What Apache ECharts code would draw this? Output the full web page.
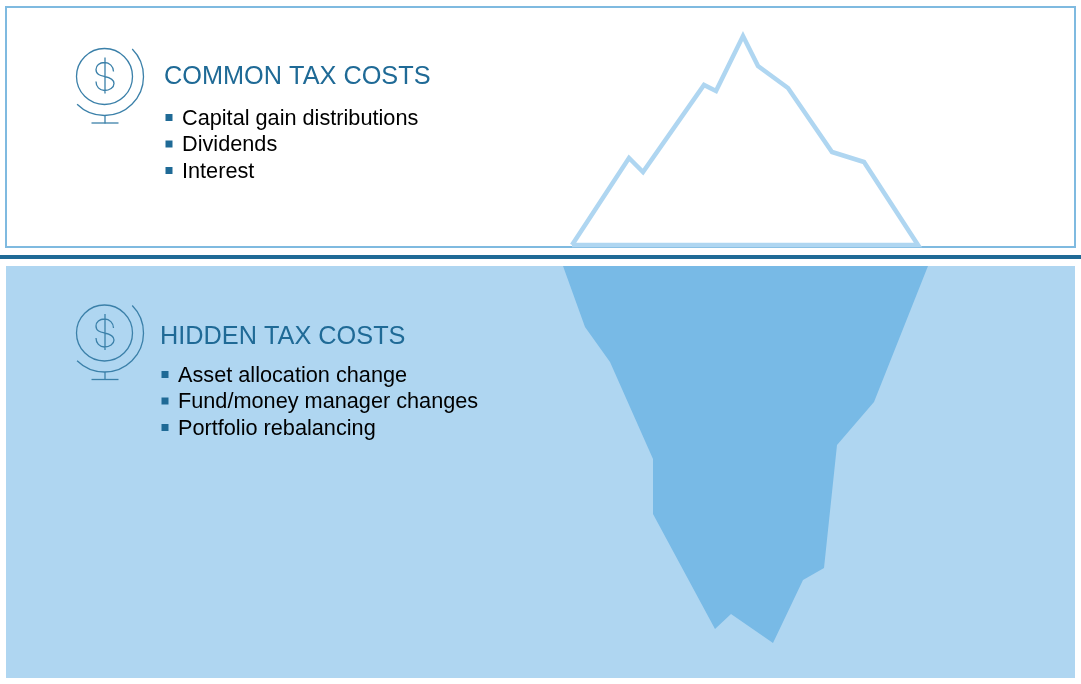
<!DOCTYPE html>
<html lang="en" style="height: 100%">
<head>
    <meta charset="utf-8">
</head>
<body style="height: 100%; margin: 0; background: #fff">
<div id="container" style="width: 1081px; height: 684px"></div>

<script type="text/javascript" src="https://fastly.jsdelivr.net/npm/echarts@6/dist/echarts.min.js"></script>
<script type="text/javascript">
    // iceberg outlines as [x, y]
    var tipOutline = [[572,245],[629,158],[643,172],[704,85],[716,91],[743,36],[758,66],[788,88],[832,152],[864,162],[918,245],[572,245]];
    var bergBody = [[563,266],[585,327],[610,362],[653,459],[653,514],[715,629],[731,614],[773,643],[803,580],[824,568],[837,445],[874,402],[928,266]];

    // labels: [x, y, text]
    var headings = [[164,77,'COMMON TAX COSTS'],[160,337,'HIDDEN TAX COSTS']];
    var bulletLabels = [
        [182,119,'Capital gain distributions'],
        [182,145,'Dividends'],
        [182,172,'Interest'],
        [178,376,'Asset allocation change'],
        [178,402,'Fund/money manager changes'],
        [178,429,'Portfolio rebalancing']
    ];
    var bulletMarks = [[169,117.5],[169,144],[169,170.5],[165,374.5],[165,401],[165,427.5]];

    // dollar globe icons, centre of each
    var iconCentres = [[104.5,76.5],[104.5,333]];

    var DARK = '#1f6a96', PALE = '#afd6f1', MID = '#78bae6', EDGE = '#7fbae0', ICON = '#3b80a9';
    var FONT = '"Liberation Sans", Arial, sans-serif';

    var dollarPath = 'M9-5C9-10 5-14 0-14C-5-14-8.5-11-8.5-7C-8.5-2-4-1 0 0C5 1 9.5 3 9.5 7C9.5 11 5 14 0 14C-5 14-8.5 10-8.5 5M0.5-19L0.5 17';

    function renderPanels(params, api) {
        var a = api.coord([6, 7]), b = api.coord([1075, 247]);
        var c = api.coord([6, 266]), d = api.coord([1075, 678]);
        var e = api.coord([0, 257]), f = api.coord([1081, 257]);
        return {type: 'group', children: [
            {type: 'rect', shape: {x: a[0], y: a[1], width: b[0]-a[0], height: b[1]-a[1]},
                style: {fill: '#fff', stroke: EDGE, lineWidth: 2}},
            {type: 'rect', shape: {x: c[0], y: c[1], width: d[0]-c[0], height: d[1]-c[1]},
                style: {fill: PALE}},
            {type: 'line', shape: {x1: e[0], y1: e[1], x2: f[0], y2: f[1]},
                style: {stroke: DARK, lineWidth: 4}}
        ]};
    }

    function renderBody(params, api) {
        return {type: 'polygon', shape: {points: bergBody.map(function (p) { return api.coord(p); })},
            style: {fill: MID}};
    }

    function renderIcon(params, api) {
        var c = api.coord([api.value(0), api.value(1)]);
        var line = {fill: 'none', stroke: ICON, lineWidth: 1.3};
        return {type: 'group', x: c[0], y: c[1], children: [
            {type: 'circle', shape: {cx: 0, cy: 0, r: 28}, style: line},
            {type: 'arc', shape: {cx: 0, cy: 0, r: 39, startAngle: -0.78, endAngle: 2.35}, style: line},
            {type: 'path', shape: {pathData: dollarPath, x: -8.5, y: -19, width: 18, height: 36}, style: line},
            {type: 'line', shape: {x1: 0.5, y1: 39, x2: 0.5, y2: 47}, style: line},
            {type: 'line', shape: {x1: -13, y1: 46.5, x2: 14, y2: 46.5}, style: line}
        ]};
    }

    function textRenderer(size, color) {
        return function (params, api) {
            var c = api.coord([api.value(0), api.value(1)]);
            return {type: 'text', x: c[0], y: c[1], style: {
                text: api.value(2), font: size + 'px ' + FONT, fill: color,
                textAlign: 'left', textVerticalAlign: 'middle'
            }};
        };
    }

    var myChart = echarts.init(document.getElementById('container'), null, {renderer: 'canvas'});
    var option = {
        animation: false,
        grid: {left: 0, right: 0, top: 0, bottom: 0},
        xAxis: {type: 'value', min: 0, max: 1081, show: false},
        yAxis: {type: 'value', min: 0, max: 684, inverse: true, show: false},
        series: [
            {type: 'custom', z: 1, data: [[0, 0]], renderItem: renderPanels, silent: true},
            {type: 'custom', z: 2, data: [[0, 0]], renderItem: renderBody, silent: true},
            {type: 'line', z: 3, data: tipOutline, symbol: 'none', silent: true,
                lineStyle: {color: PALE, width: 4.5, join: 'miter'}},
            {type: 'custom', z: 4, data: iconCentres, renderItem: renderIcon, silent: true},
            {type: 'scatter', z: 4, data: bulletMarks, symbol: 'rect', symbolSize: 7, silent: true,
                itemStyle: {color: DARK, opacity: 1}},
            {type: 'custom', z: 5, data: headings, renderItem: textRenderer(25.3, DARK), silent: true,
                encode: {x: 0, y: 1}, dimensions: ['x', 'y', {name: 't', type: 'ordinal'}]},
            {type: 'custom', z: 5, data: bulletLabels, renderItem: textRenderer(21.7, '#000'), silent: true,
                encode: {x: 0, y: 1}, dimensions: ['x', 'y', {name: 't', type: 'ordinal'}]}
        ]
    };
    myChart.setOption(option);

    window.addEventListener('resize', myChart.resize);
</script>
</body>
</html>
